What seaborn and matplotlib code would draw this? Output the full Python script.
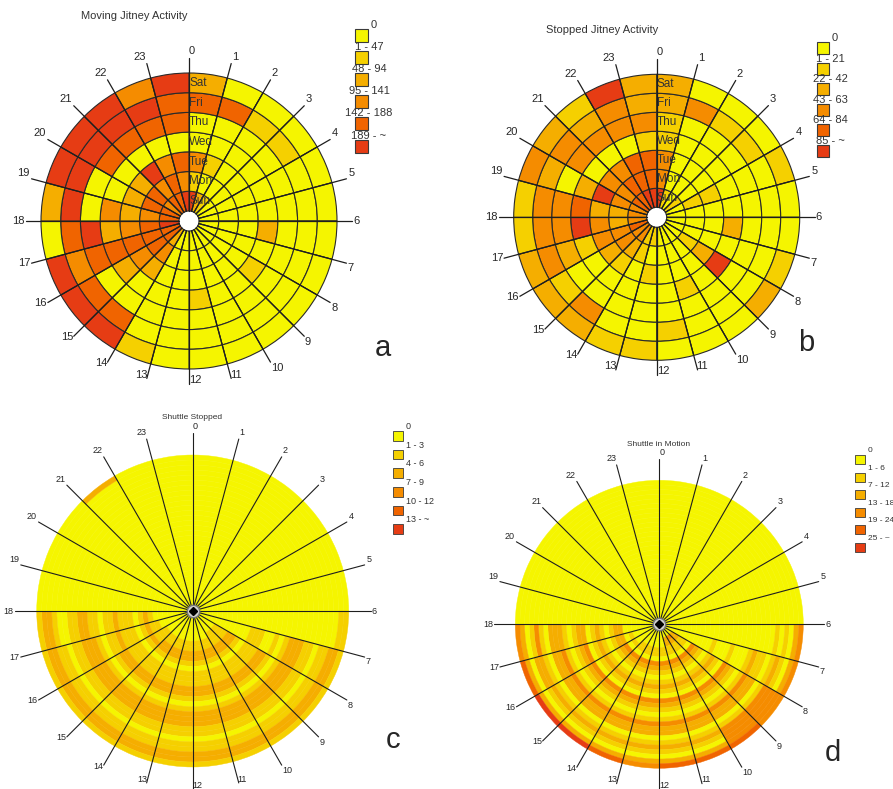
import numpy as np
import matplotlib
matplotlib.use("Agg")
import matplotlib.pyplot as plt
import seaborn as sns
from matplotlib.patches import Rectangle

sns.set_theme(style="white")
plt.rcParams["font.family"] = ["Liberation Sans", "DejaVu Sans"]

W, H = 893, 789
RMAX = 190

DAYS = ["Sun", "Mon", "Tue", "Wed", "Thu", "Fri", "Sat"]
HOURS = list(range(24))

# activity class per hour (0..23), one digit per day Sun..Sat
moving_jitney = [
    "5130042", "2010040", "1000010", "0000010", "0000000", "0000000",
    "0002000", "0000000", "0001000", "0000000", "0000000", "0001000",
    "0000000", "0000001", "2320045", "4432045", "4444435", "5432540",
    "4323052", "4420055", "3420455", "4350455", "4430453", "5340445",
]
stopped_jitney = [
    "5331122", "1000030", "0000010", "1000010", "0110001", "0000000",
    "0002000", "0000001", "0125002", "0000000", "0001000", "0000010",
    "1010001", "1100001", "3210032", "3320012", "4331232", "3235331",
    "3224331", "3352023", "4330332", "4430321", "5440335", "5441322",
]

# shuttle: one digit per ring (centre -> rim) for hours 6..17
SHUTTLE_HOURS = list(range(6, 18))
shuttle_stopped = [
    "00000 00000 00000 00000 00000 00001 1",
    "00000 00000 00111 00101 22211 01122 1",
    "00000 11122 10111 22101 22211 01122 1",
    "00000 11122 10111 22101 22211 01122 1",
    "00000 01122 10111 22101 22211 01122 1",
    "00000 01122 10111 22101 22211 01122 1",
    "00000 01122 10111 22101 22211 01122 1",
    "00000 01122 10111 22101 22211 01122 1",
    "00000 01122 10111 22101 22211 01122 1",
    "00000 01112 10111 22101 22211 01122 1",
    "00000 00112 10111 21101 22211 01122 1",
    "00000 00012 10111 21101 12211 00122 1",
]
shuttle_stopped_extra = [(21, 30, 2)]
shuttle_motion = [
    "00000 00000 00000 00000 00000 10102 3",
    "00000 00000 00100 01000 12110 12102 3",
    "00022 11032 10121 03210 13220 13333 3",
    "00032 11032 10121 03210 13220 13333 4",
    "00022 11032 10121 03210 13220 12102 4",
    "00000 11032 10121 03210 13220 12102 4",
    "00000 11032 10121 03210 13220 12102 3",
    "00000 11032 10121 03210 13220 12102 4",
    "00000 11032 10121 03210 13220 12102 5",
    "00000 01032 10121 03210 13220 12102 5",
    "00000 01022 10121 03210 13220 12202 4",
    "00000 00022 10121 02210 12220 13102 3",
]

legend_a = ["0", "1 - 47", "48 - 94", "95 - 141", "142 - 188", "189 - ~"]
legend_b = ["0", "1 - 21", "22 - 42", "43 - 63", "64 - 84", "85 - ~"]
legend_c = ["0", "1 - 3", "4 - 6", "7 - 9", "10 - 12", "13 - ~"]
legend_d = ["0", "1 - 6", "7 - 12", "13 - 18", "19 - 24", "25 - ~"]

PALETTE = sns.color_palette(["#F5F500", "#F5D000", "#F5AE00",
                             "#F58C00", "#F06400", "#E63C14"])


def to_grid(rows, hours, extra=()):
    rows = [[int(ch) for ch in r.replace(" ", "")] for r in rows]
    n = max(len(r) for r in rows)
    g = np.zeros((24, n), dtype=int)
    for h, r in zip(hours, rows):
        g[h, :len(r)] = r
    for h, ring, v in extra:
        g[h, ring] = v
    return g


def polar_axes(fig, cx, cy):
    ax = fig.add_axes([(cx - RMAX) / W, (H - cy - RMAX) / H,
                       2 * RMAX / W, 2 * RMAX / H], projection="polar")
    ax.set_theta_zero_location("N")
    ax.set_theta_direction(-1)
    ax.set_ylim(0, RMAX)
    ax.set_axis_off()
    return ax


def draw_rings(ax, grid, r_in, r_out, edge=None, lw=0.8):
    n_rings = grid.shape[1]
    rw = (r_out - r_in) / n_rings
    hh, rr = np.meshgrid(np.arange(24), np.arange(n_rings), indexing="ij")
    theta = np.deg2rad((hh.ravel() + 0.5) * 15)
    bottom = r_in + rr.ravel() * rw
    colors = [PALETTE[v] for v in grid.ravel()]
    ax.bar(theta, rw, width=np.deg2rad(15), bottom=bottom, align="center",
           color=colors, edgecolor=edge if edge else colors, linewidth=lw)
    return rw


def spokes(ax, r0, r1, size, lw=0.9):
    for h in HOURS:
        t = np.deg2rad(h * 15)
        ax.plot([t, t], [r0, r1], color="#1e1e1e", lw=lw, zorder=4)
        s, c = np.sin(t), np.cos(t)
        ha = "left" if s > -0.1 else "right"
        if c > 0.1:
            va, r = "bottom", r1 + 2
        elif c < -0.9:
            va, r = "center", r1 - 4
        elif c < -0.1 and s > 0:
            va, r = "top", r1 + 1
        else:
            va, r = "center", r1 + 1
        ax.text(t, r, str(h), ha=ha, va=va, fontsize=size, color="#262626")


def legend(ov, x, tops, w, h, labels, jitney, size):
    for i, top in enumerate(tops):
        ov.add_patch(Rectangle((x, top), w, h, facecolor=PALETTE[i],
                               edgecolor="#3a3a3a", lw=0.8 if jitney else 0.6))
    for i, lab in enumerate(labels):
        y = tops[i] - 4.5
        if jitney and i > 0:
            ov.text(x + w + 1, y, lab, ha="center", va="center", fontsize=size, color="#333")
        else:
            ov.text(x + w + 3, y, lab, ha="left", va="center", fontsize=size, color="#333")


fig = plt.figure(figsize=(W / 100, H / 100), dpi=100)
ov = fig.add_axes([0, 0, 1, 1])
ov.set_xlim(0, W)
ov.set_ylim(H, 0)
ov.set_axis_off()

# a: moving jitney
ax = polar_axes(fig, 189, 221)
g = to_grid(moving_jitney, HOURS)
rw = draw_rings(ax, g, 10, 148, edge="#2a2a2a")
spokes(ax, 10, 163, 8)
for i, d in enumerate(DAYS):
    ax.text(0, 10 + (i + 0.5) * rw, d, ha="left", va="center", fontsize=8.5, color="#333", zorder=5)
ov.text(134, 16, "Moving Jitney Activity", ha="center", va="center", fontsize=8, color="#333")
legend(ov, 355, [29, 51, 73, 95, 117, 140], 13, 13, legend_a, True, 8)
ov.text(383, 348, "a", ha="center", va="center", fontsize=21)

# b: stopped jitney
ax = polar_axes(fig, 656.7, 217.3)
g = to_grid(stopped_jitney, HOURS)
rw = draw_rings(ax, g, 10, 143, edge="#2a2a2a")
spokes(ax, 10, 158, 8)
for i, d in enumerate(DAYS):
    ax.text(0, 10 + (i + 0.5) * rw, d, ha="left", va="center", fontsize=8.5, color="#333", zorder=5)
ov.text(602, 30, "Stopped Jitney Activity", ha="center", va="center", fontsize=8, color="#333")
legend(ov, 817, [42, 63, 83, 104, 124, 145], 12, 12, legend_b, True, 8)
ov.text(806, 343, "b", ha="center", va="center", fontsize=21)

# c: shuttle stopped
ax = polar_axes(fig, 192.7, 611)
g = to_grid(shuttle_stopped, SHUTTLE_HOURS, shuttle_stopped_extra)
draw_rings(ax, g, 0, 156, lw=0.3)
spokes(ax, 0, 178, 6.5, lw=0.8)
ax.plot(0, 0, marker="o", ms=9, mfc="#d0d0d0", mec="#777", zorder=5)
ax.plot(0, 0, marker="D", ms=4.5, color="black", zorder=6)
ov.text(192.5, 417, "Shuttle Stopped", ha="center", va="center", fontsize=6, color="#333")
legend(ov, 393, [431, 449.7, 468.3, 487, 505.7, 524.3], 10, 9.5, legend_c, False, 6.5)
ov.text(393, 740, "c", ha="center", va="center", fontsize=21)

# d: shuttle in motion
ax = polar_axes(fig, 659.3, 624.3)
g = to_grid(shuttle_motion, SHUTTLE_HOURS)
draw_rings(ax, g, 0, 144, lw=0.3)
spokes(ax, 0, 165, 6.5, lw=0.8)
ax.plot(0, 0, marker="o", ms=9, mfc="#d0d0d0", mec="#777", zorder=5)
ax.plot(0, 0, marker="D", ms=4.5, color="black", zorder=6)
ov.text(659, 444, "Shuttle in Motion", ha="center", va="center", fontsize=6, color="#333")
legend(ov, 855, [455, 472.6, 490.2, 507.8, 525.4, 543], 10, 9, legend_d, False, 6)
ov.text(833, 753, "d", ha="center", va="center", fontsize=21)

fig.savefig("out.png", dpi=100)
